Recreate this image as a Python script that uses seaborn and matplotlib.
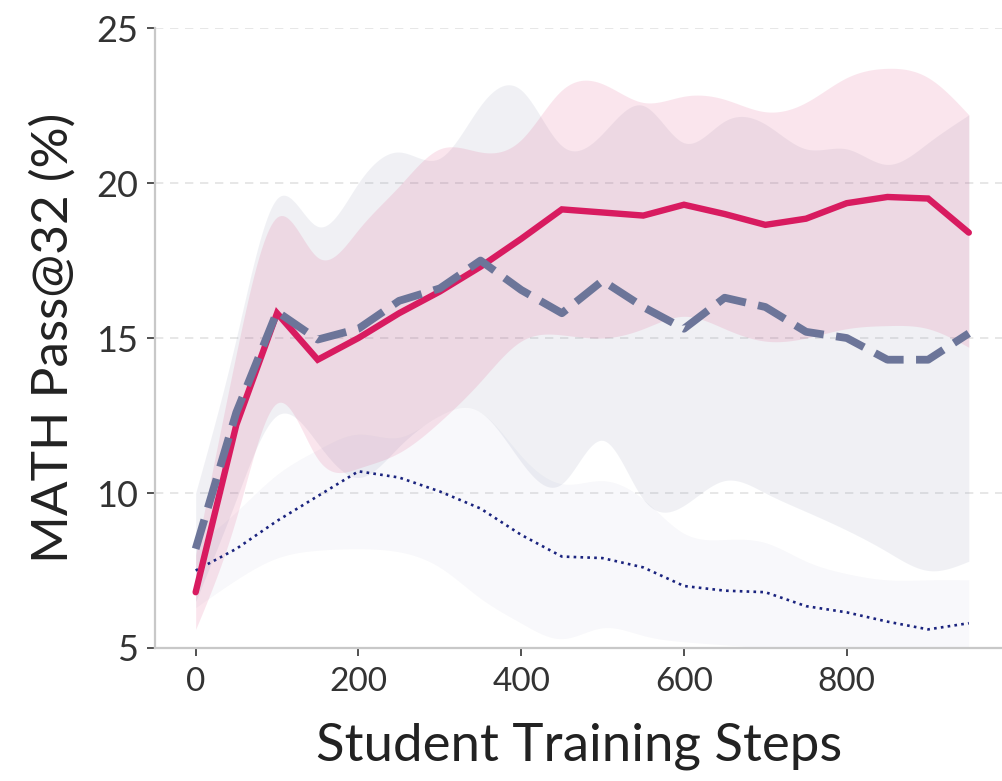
import numpy as np
import pandas as pd
import matplotlib
matplotlib.use("Agg")
import matplotlib.pyplot as plt
import seaborn as sns

# Training steps
steps = np.arange(0, 1000, 50)

# Mean Pass@32 per run
red_mean = [6.8, 12.2, 15.8, 14.3, 15.0, 15.8, 16.5, 17.3, 18.2, 19.15,
            19.05, 18.95, 19.3, 19.0, 18.65, 18.85, 19.35, 19.55, 19.5, 18.4]
slate_mean = [8.2, 12.6, 15.85, 14.95, 15.3, 16.2, 16.6, 17.5, 16.55, 15.8,
              16.85, 16.0, 15.3, 16.3, 16.0, 15.2, 15.0, 14.3, 14.3, 15.15]
navy_mean = [7.5, 8.2, 9.1, 9.9, 10.7, 10.5, 10.05, 9.5, 8.65, 7.95,
             7.9, 7.6, 7.0, 6.85, 6.8, 6.35, 6.15, 5.85, 5.6, 5.8]

# Spread bands (upper / lower)
red_hi = [8.0, 14.5, 18.9, 17.6, 18.5, 19.9, 21.1, 21.0, 21.4, 23.0,
          23.2, 22.6, 22.8, 22.7, 22.3, 22.6, 23.4, 23.7, 23.4, 22.2]
red_lo = [5.6, 9.2, 12.9, 11.1, 10.8, 11.3, 12.3, 13.6, 14.9, 15.1,
          15.0, 15.3, 15.7, 15.3, 14.9, 15.0, 15.3, 15.4, 15.3, 14.7]
slate_hi = [10.0, 15.0, 19.5, 18.6, 20.0, 21.0, 20.8, 22.5, 23.0, 21.2,
            21.6, 22.5, 21.3, 22.0, 21.9, 21.1, 21.1, 20.6, 21.3, 22.2]
slate_lo = [6.5, 9.8, 12.5, 11.6, 10.5, 11.5, 12.5, 12.6, 11.0, 10.3,
            11.7, 9.8, 9.6, 10.4, 10.0, 9.4, 8.8, 8.1, 7.5, 7.8]
navy_hi = [8.3, 9.4, 10.6, 11.4, 11.9, 11.8, 12.5, 12.6, 11.2, 10.3,
           10.4, 9.8, 8.7, 8.5, 8.4, 7.8, 7.4, 7.2, 7.2, 7.2]
navy_lo = [6.3, 7.2, 7.9, 8.15, 8.2, 8.1, 7.6, 6.6, 5.8, 5.3,
           5.65, 5.4, 5.2, 5.1, 5.0, 4.9, 4.8, 4.8, 4.8, 4.8]

RED = "#D81B60"
SLATE = "#6C7599"
NAVY = "#1A237E"


def natural_spline(x, y, n=400):
    """Natural cubic spline through (x, y), evaluated on a fine grid."""
    x = np.asarray(x, float)
    y = np.asarray(y, float)
    k = len(x)
    h = np.diff(x)
    A = np.zeros((k, k))
    b = np.zeros(k)
    A[0, 0] = A[-1, -1] = 1.0
    for i in range(1, k - 1):
        A[i, i - 1] = h[i - 1]
        A[i, i] = 2 * (h[i - 1] + h[i])
        A[i, i + 1] = h[i]
        b[i] = 3 * ((y[i + 1] - y[i]) / h[i] - (y[i] - y[i - 1]) / h[i - 1])
    c = np.linalg.solve(A, b)
    xf = np.linspace(x[0], x[-1], n)
    idx = np.clip(np.searchsorted(x, xf) - 1, 0, k - 2)
    dx = xf - x[idx]
    bb = (y[idx + 1] - y[idx]) / h[idx] - h[idx] * (2 * c[idx] + c[idx + 1]) / 3
    dd = (c[idx + 1] - c[idx]) / (3 * h[idx])
    return xf, y[idx] + bb * dx + c[idx] * dx ** 2 + dd * dx ** 3


df = pd.DataFrame({"step": steps, "red": red_mean, "slate": slate_mean, "navy": navy_mean})

sns.set_theme(style="white")
plt.rcParams["font.family"] = ["Lato", "DejaVu Sans"]

fig = plt.figure(figsize=(10.03, 7.81), dpi=100)
ax = fig.add_axes([0.1545, 0.1703, 0.8455, 0.7938])

# Shaded bands
for lo, hi, col, a in [(navy_lo, navy_hi, NAVY, 0.028),
                       (slate_lo, slate_hi, SLATE, 0.10),
                       (red_lo, red_hi, RED, 0.11)]:
    xf, ylo = natural_spline(steps, lo)
    _, yhi = natural_spline(steps, hi)
    ax.fill_between(xf, ylo, yhi, color=col, alpha=a, linewidth=0, zorder=1)

# Mean curves
sns.lineplot(data=df, x="step", y="navy", ax=ax, color=NAVY, linewidth=1.9,
             linestyle=(0, (1, 1.6)), zorder=3)
sns.lineplot(data=df, x="step", y="red", ax=ax, color=RED, linewidth=4.6,
             solid_capstyle="round", solid_joinstyle="miter", zorder=4)
sns.lineplot(data=df, x="step", y="slate", ax=ax, color=SLATE, linewidth=5.6,
             linestyle=(0, (3.9, 1.6)), zorder=5)

ax.set_xlim(-50, 992)
ax.set_ylim(5, 25)
ax.set_xticks([0, 200, 400, 600, 800])
ax.set_yticks([5, 10, 15, 20, 25])

ax.yaxis.grid(True, linestyle=(0, (5, 4)), color="#e3e3e3", linewidth=1.2)
ax.xaxis.grid(False)
ax.set_axisbelow(True)

for side in ["top", "right"]:
    ax.spines[side].set_visible(False)
for side in ["left", "bottom"]:
    ax.spines[side].set_color("#c8c8c8")
    ax.spines[side].set_linewidth(1.6)

ax.tick_params(axis="both", which="major", direction="out", length=6, width=1.2,
               color="#333333", labelcolor="#333333", bottom=True, left=True)
ax.tick_params(axis="y", labelsize=26, pad=6)
ax.tick_params(axis="x", labelsize=24, pad=8)

ax.set_xlabel("Student Training Steps", fontsize=38, color="#222222", labelpad=18)
ax.set_ylabel("MATH Pass@32 (%)", fontsize=37, color="#222222", labelpad=14)

fig.savefig("out.png", dpi=100)
